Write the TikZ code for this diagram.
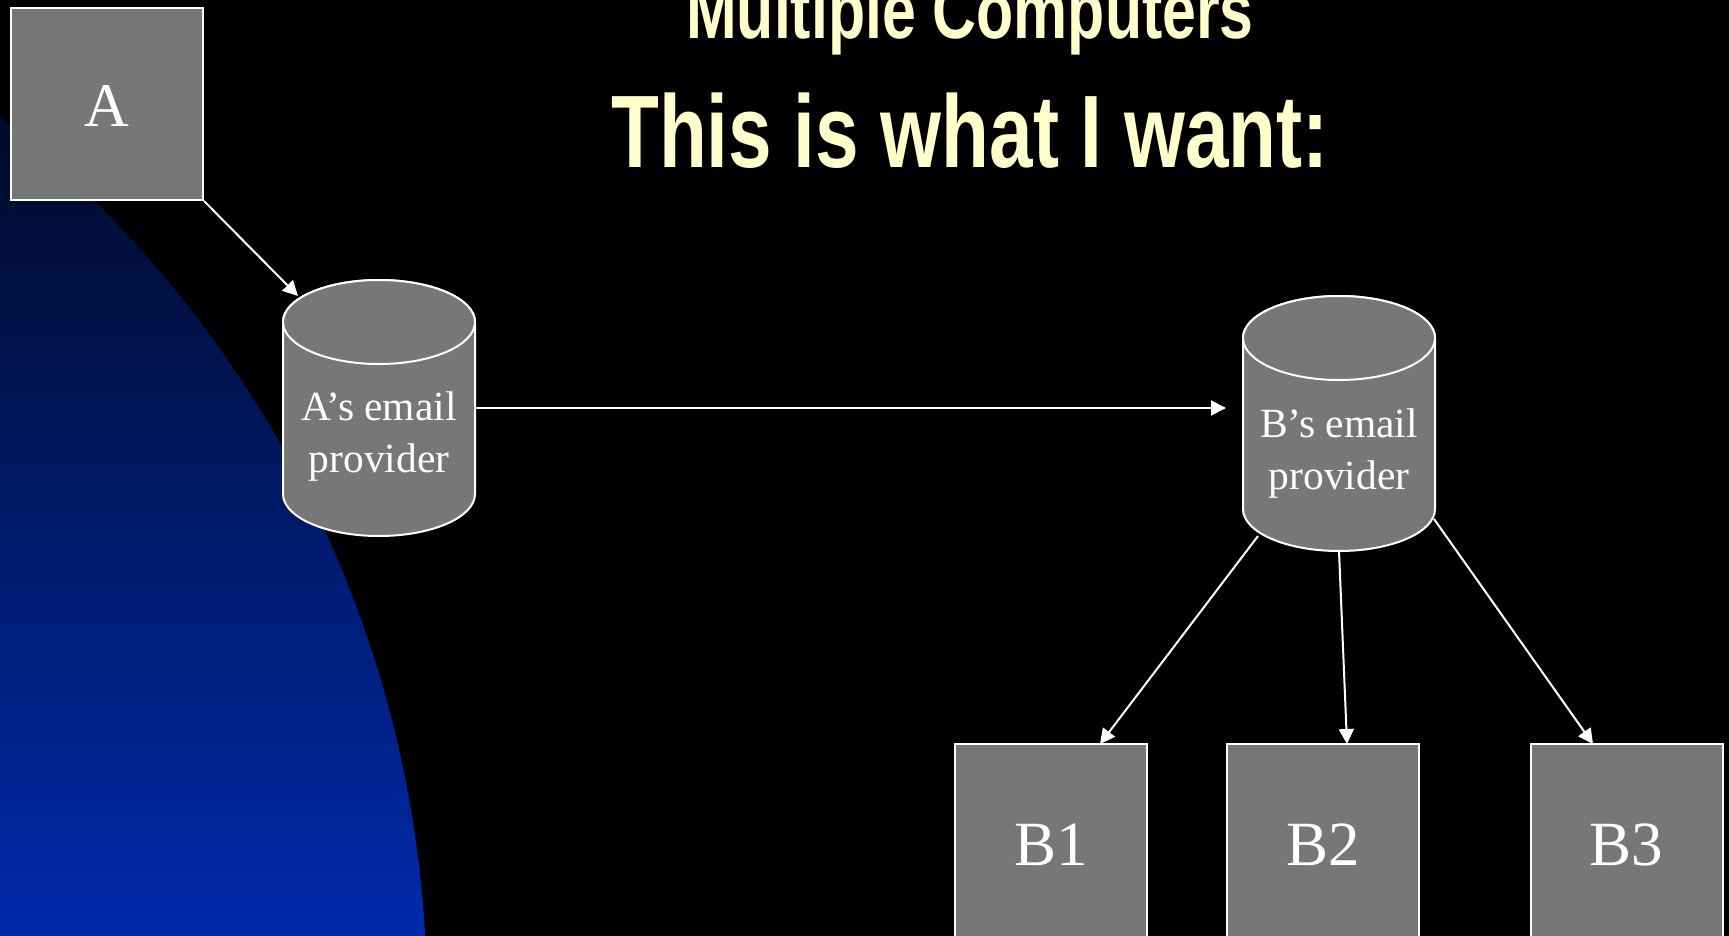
\documentclass[tikz,border=0pt]{standalone}
\usepackage{fontspec}
\setmainfont{Liberation Serif}
\newfontfamily\titlefont[FakeStretch=0.76]{Liberation Sans Bold}
\usetikzlibrary{arrows.meta}
\definecolor{boxgray}{RGB}{119,119,119}
\definecolor{titleyellow}{RGB}{255,255,204}
\definecolor{deepblue}{RGB}{0,42,172}
\begin{document}
\begin{tikzpicture}[x=1pt,y=1pt,
  box/.style={draw=white, line width=2pt, fill=boxgray, minimum width=192pt, minimum height=192pt, inner sep=0pt, text=white, text height=45pt, text depth=0pt, font=\fontsize{62}{70}\selectfont},
  bbox/.style={box, minimum height=194pt, text height=48pt, font=\fontsize{63}{70}\selectfont},
  conn/.style={draw=white, line width=2pt, -{Triangle[length=15pt,width=15pt]}},
  cyl/.style={draw=white, line width=2pt, fill=boxgray},
  cyltext/.style={text=white, align=center, inner sep=0pt, font=\fontsize{41.5}{52}\selectfont},
  title/.style={text=titleyellow, anchor=base, inner sep=0pt}
]
\useasboundingbox (0,0) rectangle (1729,-936);
\fill[black] (0,0) rectangle (1729,-936);
\begin{scope}
  \clip (0,0) rectangle (1729,-936);
  \clip (-700,-1000) circle [radius=1127];
  \shade[top color=black, bottom color=deepblue] (-10,130) rectangle (500,-936);
\end{scope}

% titles
\node[title, font=\titlefont\fontsize{80}{86}\selectfont] (t1) at (970,-39) {Multiple Computers};
\node[title, font=\titlefont\fontsize{103}{110}\selectfont] (t2) at (970,-168) {This is what I want:};

% cylinder A
\path[cyl] (283,-322) -- (283,-494) arc[start angle=180, end angle=360, x radius=96, y radius=42] -- (475,-322) arc[start angle=0, end angle=180, x radius=96, y radius=42] -- cycle;
\draw[cyl] (379,-322) ellipse [x radius=96, y radius=42];
\node[cyltext] (cylA) at (379,-437) {A’s email\\provider};

% cylinder B
\path[cyl] (1243,-338) -- (1243,-509) arc[start angle=180, end angle=360, x radius=96, y radius=42] -- (1435,-338) arc[start angle=0, end angle=180, x radius=96, y radius=42] -- cycle;
\draw[cyl] (1339,-338) ellipse [x radius=96, y radius=42];
\node[cyltext] (cylB) at (1339,-454) {B’s email\\provider};

% boxes
\node[box] (A) at (107,-104) {A};
\node[bbox] (B1) at (1051,-841) {B1};
\node[bbox] (B2) at (1323,-841) {B2};
\node[bbox] (B3) at (1626.5,-841) {B3};

% connector end points
\coordinate (aIn) at (298,-296);
\coordinate (aOut) at (475,-408);
\coordinate (bIn) at (1226,-408);
\coordinate (bOut1) at (1258,-536);
\coordinate (bOut2) at (1339,-551);
\coordinate (bOut3) at (1434,-519);
\coordinate (b1In) at (1100,-744);
\coordinate (b2In) at (1347,-744);
\coordinate (b3In) at (1593,-744);

\draw[conn] (A.south east) -- (aIn);
\draw[conn] (aOut) -- (bIn);
\draw[conn] (bOut1) -- (b1In);
\draw[conn] (bOut2) -- (b2In);
\draw[conn] (bOut3) -- (b3In);
\end{tikzpicture}
\end{document}
